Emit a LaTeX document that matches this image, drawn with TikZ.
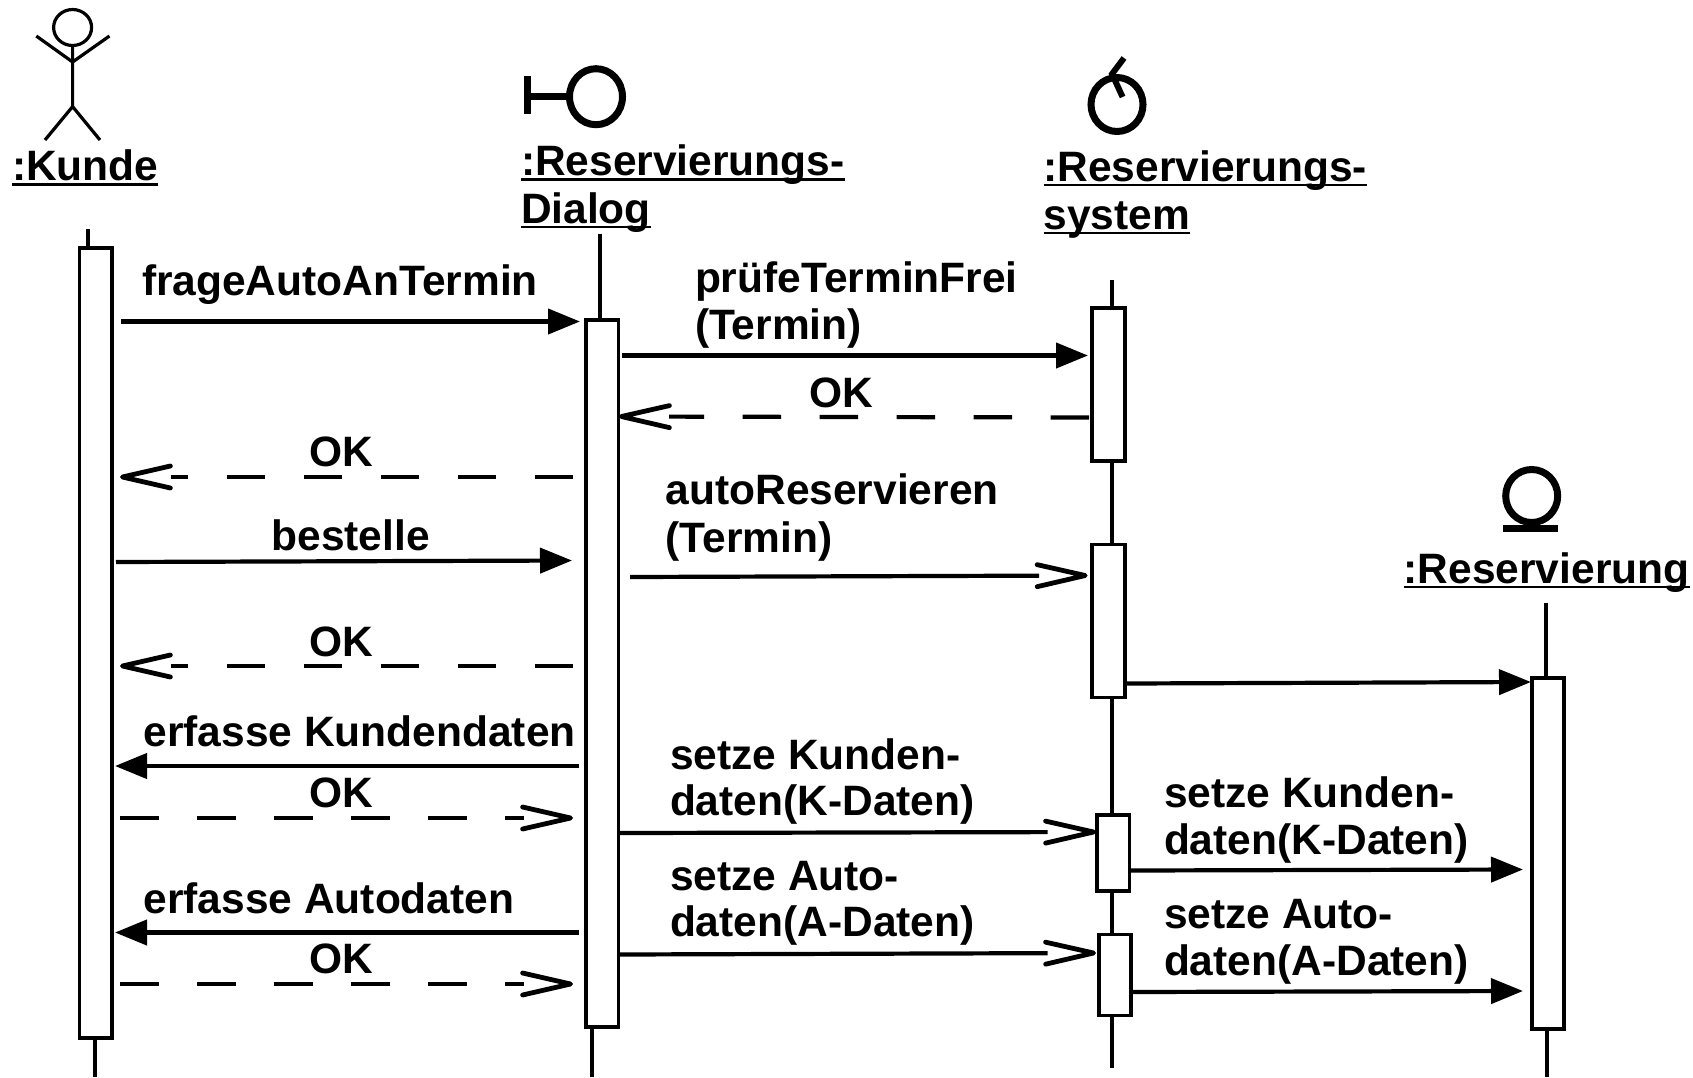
\documentclass[tikz,border=0pt]{standalone}
\usepackage{fontspec}
\setmainfont{Liberation Sans}[BoldFont={Liberation Sans Bold}]
\usetikzlibrary{arrows.meta}
\newcommand{\ulbox}[1]{\setbox0\hbox{#1}\rlap{\vrule width\wd0 height -1.4pt depth 2.7pt}\box0}
\tikzset{
  lbl/.style={anchor=base west,inner sep=0pt,outer sep=0pt,font=\fontsize{21.25pt}{23pt}\selectfont\bfseries,align=left},
  actbox/.style={draw,fill=white,line width=1.9pt,rectangle,inner sep=0pt,outer sep=0pt,minimum width=16.2pt},
  life/.style={line width=1.6pt},
  icon/.style={line width=3.5pt},
  thin icon/.style={line width=1.6pt},
  call/.style={line width=2.1pt,-{Triangle[length=16pt,width=12.5pt]}},
  barb/.style={-{Straight Barb[length=24pt,width=11pt,line width=2.4pt,round]}},
  ret/.style={line width=2.1pt,barb,dash pattern=on 19.25pt off 19.25pt on 19.25pt off 19.25pt on 19.25pt off 19.25pt on 19.25pt off 19.25pt on 19.25pt off 19.25pt on #1 off 500pt},
  asyn/.style={line width=2.1pt,barb,dash pattern=on #1 off 500pt},
}
\begin{document}
\begin{tikzpicture}[x=0.5pt,y=-0.5pt]
\useasboundingbox[fill=white] (0,0) rectangle (1693,1077);

% activation boxes
\node[actbox,minimum height=395.15pt] (kbox) at (95.7,642.85) {};
\node[actbox,minimum height=353.5pt] (dbox) at (602.25,673.5) {};
\node[actbox,minimum height=76.5pt] (sa) at (1108.5,384.5) {};
\node[actbox,minimum height=76.5pt] (sb) at (1108.5,621) {};
\node[actbox,minimum height=38pt] (sc) at (1113.25,853) {};
\node[actbox,minimum height=40.5pt] (sd) at (1115,975) {};
\node[actbox,minimum height=175.5pt] (rbox) at (1547.85,853.2) {};

% lifelines
\coordinate (ktop) at (88,229);
\coordinate (kbot) at (95,1077);
\coordinate (dtop) at (600,234);
\coordinate (dbot) at (592,1077);
\coordinate (stop) at (1112,280);
\coordinate (sbot) at (1112,1067.5);
\coordinate (rtop) at (1546,602.7);
\coordinate (rbot) at (1547,1077);
\draw[life] (ktop) -- (ktop |- kbox.north);
\draw[life] (kbox.south -| kbot) -- (kbot);
\draw[life] (dtop) -- (dtop |- dbox.north);
\draw[life] (dbox.south -| dbot) -- (dbot);
\draw[life] (stop) -- (stop |- sa.north);
\draw[life] (sa.south -| stop) -- (sb.north -| stop);
\draw[life] (sb.south -| stop) -- (sc.north -| stop);
\draw[life] (sc.south -| stop) -- (sd.north -| stop);
\draw[life] (sd.south -| stop) -- (sbot);
\draw[life] (rtop) -- (rtop |- rbox.north);
\draw[life] (rbox.south -| rbot) -- (rbot);

% actor
\draw[thin icon] (72.6,27.5) ellipse[x radius=19,y radius=18];
\draw[thin icon] (72.6,45.5) -- (72.6,106.6) (36.3,36) -- (72.6,62) -- (109.5,36) (45,140) -- (72.6,106.6) -- (100,140);
% boundary
\draw[icon] (596,96.7) ellipse[x radius=26.5,y radius=28];
\draw[icon] (527.5,76) -- (527.5,113.5) (527.5,96) -- (569.5,96);
% control
\draw[icon] (1117,104.5) ellipse[x radius=26,y radius=27];
\draw[line width=3pt] (1124,58) -- (1112,74) -- (1122.6,97);
% entity
\draw[icon] (1531.7,496) ellipse[x radius=26,y radius=26.5];
\draw[icon] (1503,528.8) -- (1558,528.8);

% object labels
\node[lbl] (kunde) at (12,180.6) {\ulbox{:Kunde}};
\node[lbl] (dlg1) at (521,175.4) {\ulbox{:Reservierungs-}};
\node[lbl] (dlg2) at (521,223) {\ulbox{Dialog}};
\node[lbl] (sys1) at (1043.5,181) {\ulbox{:Reservierungs-}};
\node[lbl] (sys2) at (1043.5,229) {\ulbox{system}};
\node[lbl] (res) at (1403.7,583) {\ulbox{:Reservierung}};

% message labels
\node[lbl] (m1) at (142,295) {frageAutoAnTermin};
\node[lbl] (m2a) at (695,292) {prüfeTerminFrei};
\node[lbl] (m2b) at (695,339.7) {(Termin)};
\node[lbl] (ok1) at (809,407) {OK};
\node[lbl] (ok2) at (309.5,466) {OK};
\node[lbl] (m3a) at (665.6,504) {autoReservieren};
\node[lbl] (m3b) at (665.6,552) {(Termin)};
\node[lbl] (m4) at (271.5,550.5) {bestelle};
\node[lbl] (ok3) at (309.5,656.5) {OK};
\node[lbl] (m5) at (143.6,746) {erfasse Kundendaten};
\node[lbl] (ok4) at (309.5,807) {OK};
\node[lbl] (m6a) at (670,769.5) {setze Kunden-};
\node[lbl] (m6b) at (670,815.7) {daten(K-Daten)};
\node[lbl] (m7a) at (1164,807.5) {setze Kunden-};
\node[lbl] (m7b) at (1164,854.4) {daten(K-Daten)};
\node[lbl] (m8) at (143.6,913) {erfasse Autodaten};
\node[lbl] (ok5) at (309.5,973) {OK};
\node[lbl] (m9a) at (670,890) {setze Auto-};
\node[lbl] (m9b) at (670,936.6) {daten(A-Daten)};
\node[lbl] (m10a) at (1164,928.7) {setze Auto-};
\node[lbl] (m10b) at (1164,975.7) {daten(A-Daten)};

% message end points
\coordinate (a1) at (121,321.5);   \coordinate (b1) at (580,321.5);
\coordinate (a2) at (622,355.5);   \coordinate (b2) at (1088,355.5);
\coordinate (a3) at (1089,417.5);  \coordinate (b3) at (619,416.5);
\coordinate (a4) at (573,477);     \coordinate (b4) at (120,477);
\coordinate (a5) at (630,577);     \coordinate (b5) at (1087.6,575.5);
\coordinate (a6) at (116,562);     \coordinate (b6) at (572,560.5);
\coordinate (a7) at (573,666);     \coordinate (b7) at (120,666);
\coordinate (a8) at (1127,683.5);  \coordinate (b8) at (1531,682);
\coordinate (a9) at (579,766);     \coordinate (b9) at (115,766);
\coordinate (a10) at (120,818);    \coordinate (b10) at (573,818);
\coordinate (a11) at (619.5,833);  \coordinate (b11) at (1096,832);
\coordinate (a12) at (1130.6,870.5); \coordinate (b12) at (1523,869.5);
\coordinate (a13) at (579,932.5);  \coordinate (b13) at (115,932.5);
\coordinate (a14) at (120,984);    \coordinate (b14) at (573,984);
\coordinate (a15) at (619.5,954.5);\coordinate (b15) at (1096,953);
\coordinate (a16) at (1132,992);   \coordinate (b16) at (1523,991);

% messages
\draw[call] (a1) -- (b1);
\draw[call] (a2) -- (b2);
\draw[ret=17.5pt] (a3) -- (b3);
\draw[ret=8.75pt] (a4) -- (b4);
\draw[asyn=204.5pt] (a5) -- (b5);
\draw[call] (a6) -- (b6);
\draw[ret=8.75pt] (a7) -- (b7);
\draw[call] (a8) -- (b8);
\draw[call] (a9) -- (b9);
\draw[ret=9.5pt] (a10) -- (b10);
\draw[asyn=214pt] (a11) -- (b11);
\draw[call] (a12) -- (b12);
\draw[call] (a13) -- (b13);
\draw[ret=9.5pt] (a14) -- (b14);
\draw[asyn=214pt] (a15) -- (b15);
\draw[call] (a16) -- (b16);
\end{tikzpicture}
\end{document}
